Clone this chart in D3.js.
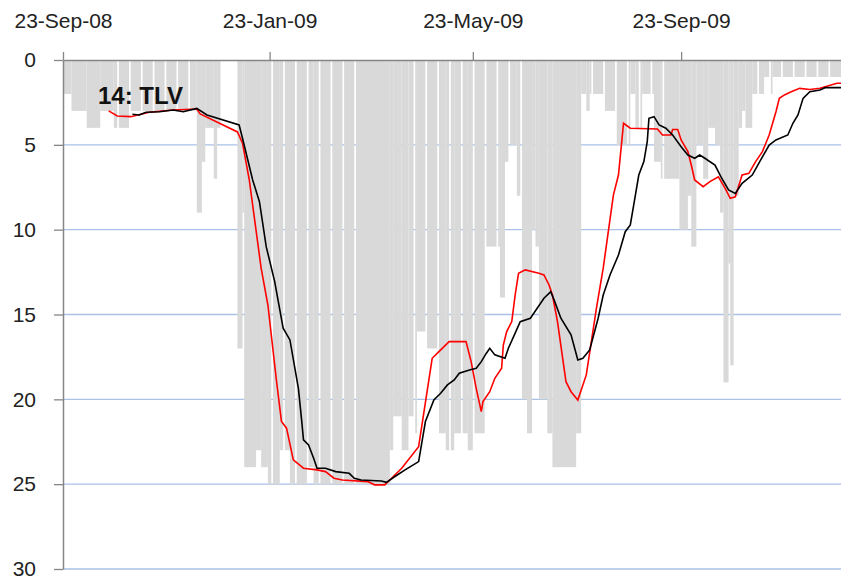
<!DOCTYPE html>
<html>
<head>
<meta charset="utf-8">
<script src="https://cdnjs.cloudflare.com/ajax/libs/d3/7.8.5/d3.min.js"></script>
<style>
  body { margin: 0; background: #fff; }
  svg { display: block; }
  text { font-family: "Liberation Sans", Arial, sans-serif; }
</style>
</head>
<body>
<div id="chart"></div>
<script>
var width = 841,
    height = 584;

var yTicks = [0, 5, 10, 15, 20, 25, 30];
var xTickDates = ["2008-09-23", "2009-01-23", "2009-05-23", "2009-09-23"];
var seriesLabel = "14: TLV";

// daily rank (grey bars), run-length: value holds from this date until the next one
var barStart = ["2008-09-23", "2008-09-28", "2008-10-07", "2008-10-15", "2008-10-23", "2008-11-02",
    "2008-12-11", "2008-12-14", "2008-12-16", "2008-12-21", "2008-12-23", "2008-12-25",
    "2009-01-04", "2009-01-07", "2009-01-08", "2009-01-15", "2009-01-18", "2009-01-22", "2009-01-29",
    "2009-02-04", "2009-02-15", "2009-02-18", "2009-04-04", "2009-04-06", "2009-04-11", "2009-04-15",
    "2009-04-18", "2009-04-20", "2009-04-25", "2009-04-26", "2009-05-02", "2009-05-07", "2009-05-10",
    "2009-05-12", "2009-05-17", "2009-05-20", "2009-05-24", "2009-05-31", "2009-06-08", "2009-06-11",
    "2009-06-14", "2009-06-18", "2009-06-21", "2009-06-24", "2009-06-27", "2009-06-29", "2009-07-01",
    "2009-07-06", "2009-07-09", "2009-07-23", "2009-07-26", "2009-07-29", "2009-07-31", "2009-08-08",
    "2009-08-15", "2009-08-24", "2009-08-27", "2009-08-31", "2009-09-07", "2009-09-11", "2009-09-22",
    "2009-09-27", "2009-09-29", "2009-10-02", "2009-10-06", "2009-10-09", "2009-10-13", "2009-10-16",
    "2009-10-18", "2009-10-21", "2009-10-22", "2009-10-24", "2009-10-27", "2009-10-29", "2009-10-31",
    "2009-11-04", "2009-11-11", "2009-11-14", "2009-11-16"];
var barValue = [2, 3, 4, 3, 4, 3,
    9, 6, 4, 7, 4, 0,
    17, 9, 24, 23, 24, 25, 23,
    25, 24, 25, 23, 21, 23, 21,
    22, 16, 3, 17, 22, 23, 23,
    22, 22, 23, 22, 11, 14, 6,
    5, 8, 20, 22, 10, 11, 20,
    22, 24, 22, 2, 3, 2, 3,
    5, 2, 4, 2, 6, 7, 10,
    8, 11, 5, 7, 4, 5, 9,
    19, 12, 18, 8, 4, 3, 4,
    2, 1, 2, 1];

// periods where the Saturday value is missing
var gapFrom = ["2008-10-25", "2009-01-24", "2009-04-18", "2009-08-01", "2009-11-07"];
var gapTo   = ["2008-12-06", "2009-03-14", "2009-06-20", "2009-09-12", "2009-12-19"];

var redDates = ["2008-10-20", "2008-10-25", "2008-11-02", "2008-11-08", "2008-11-13", "2008-11-27",
    "2008-12-11", "2008-12-13", "2009-01-04", "2009-01-07", "2009-01-11", "2009-01-18", "2009-01-22",
    "2009-01-27", "2009-01-30", "2009-02-02", "2009-02-06", "2009-02-12", "2009-02-20", "2009-02-25",
    "2009-03-02", "2009-03-07", "2009-03-22", "2009-03-26", "2009-04-01", "2009-04-05", "2009-04-11",
    "2009-04-21", "2009-04-29", "2009-05-03", "2009-05-09", "2009-05-19", "2009-05-22", "2009-05-25",
    "2009-05-28", "2009-05-29", "2009-06-02", "2009-06-05", "2009-06-09", "2009-06-10", "2009-06-12",
    "2009-06-15", "2009-06-17", "2009-06-19", "2009-06-23", "2009-07-01", "2009-07-04", "2009-07-07",
    "2009-07-09", "2009-07-12", "2009-07-17", "2009-07-20", "2009-07-24", "2009-07-29", "2009-08-04",
    "2009-08-08", "2009-08-14", "2009-08-17", "2009-08-20", "2009-08-24", "2009-09-09", "2009-09-12",
    "2009-09-17", "2009-09-18", "2009-09-21", "2009-09-23", "2009-09-27", "2009-09-29", "2009-10-01",
    "2009-10-06", "2009-10-10", "2009-10-15", "2009-10-19", "2009-10-22", "2009-10-25", "2009-10-29",
    "2009-11-02", "2009-11-06", "2009-11-10", "2009-11-14", "2009-11-18", "2009-11-20", "2009-11-23",
    "2009-11-27", "2009-12-02", "2009-12-08", "2009-12-14", "2009-12-24", "2009-12-27"];
var redValues = [3.0, 3.3, 3.34, 3.2, 3.08, 2.95,
    2.89, 3.18, 4.24, 4.9, 7.07, 12.27, 14.44,
    18.86, 21.3, 21.7, 23.57, 24.06, 24.16, 24.26,
    24.65, 24.75, 24.85, 25.04, 25.04, 24.65, 24.06,
    22.79, 17.58, 17.19, 16.6, 16.6, 17.78, 19.35,
    20.72, 20.13, 19.55, 18.76, 18.17, 16.8, 16.01,
    15.42, 13.85, 12.57, 12.37, 12.57, 12.67, 13.26,
    13.85, 15.42, 18.96, 19.55, 20.04, 18.56, 14.63,
    12.27, 7.96, 6.78, 3.73, 4.02, 4.07, 4.42,
    4.42, 4.1, 4.1, 4.71, 5.4, 6.19, 7.07,
    7.47, 7.17, 6.88, 7.56, 8.15, 8.06, 6.78,
    6.68, 5.99, 5.4, 4.42, 3.05, 2.26, 2.06,
    1.87, 1.67, 1.74, 1.67, 1.37, 1.37];

var blackDates = ["2008-11-03", "2008-11-07", "2008-11-11", "2008-11-19", "2008-11-27", "2008-12-03",
    "2008-12-11", "2008-12-17", "2009-01-05", "2009-01-07", "2009-01-13", "2009-01-17", "2009-01-21",
    "2009-01-26", "2009-01-31", "2009-02-04", "2009-02-09", "2009-02-11", "2009-02-12", "2009-02-15",
    "2009-02-18", "2009-02-20", "2009-02-25", "2009-03-03", "2009-03-11", "2009-03-14", "2009-03-18",
    "2009-03-30", "2009-04-02", "2009-04-07", "2009-04-13", "2009-04-21", "2009-04-25", "2009-04-30",
    "2009-05-04", "2009-05-08", "2009-05-12", "2009-05-15", "2009-05-21", "2009-05-25", "2009-05-28",
    "2009-05-31", "2009-06-02", "2009-06-05", "2009-06-11", "2009-06-13", "2009-06-17", "2009-06-20",
    "2009-06-26", "2009-06-30", "2009-07-04", "2009-07-08", "2009-07-10", "2009-07-14", "2009-07-20",
    "2009-07-24", "2009-07-27", "2009-07-31", "2009-08-05", "2009-08-08", "2009-08-12", "2009-08-17",
    "2009-08-21", "2009-08-24", "2009-08-27", "2009-08-29", "2009-09-01", "2009-09-03", "2009-09-04",
    "2009-09-07", "2009-09-10", "2009-09-14", "2009-09-18", "2009-09-23", "2009-09-27", "2009-10-01",
    "2009-10-04", "2009-10-07", "2009-10-13", "2009-10-17", "2009-10-21", "2009-10-25", "2009-10-29",
    "2009-11-04", "2009-11-09", "2009-11-14", "2009-11-18", "2009-11-25", "2009-11-28", "2009-12-01",
    "2009-12-04", "2009-12-08", "2009-12-14", "2009-12-17", "2009-12-27"];
var blackValues = [3.2, 3.24, 3.08, 3.05, 2.95, 3.05,
    2.85, 3.24, 3.83, 4.61, 7.07, 8.35, 11.0,
    13.06, 15.81, 16.5, 19.35, 21.31, 22.39, 22.69,
    23.47, 24.06, 24.06, 24.26, 24.36, 24.65, 24.75,
    24.81, 24.89, 24.55, 24.16, 23.67, 21.31, 20.04,
    19.64, 19.15, 18.86, 18.46, 18.27, 18.17, 17.78,
    17.28, 16.99, 17.38, 17.58, 16.99, 16.1, 15.42,
    15.22, 14.63, 14.04, 13.65, 14.14, 15.22, 16.2,
    17.68, 17.58, 17.09, 15.22, 13.85, 12.67, 11.49,
    10.12, 9.72, 7.96, 6.78, 5.99, 4.81, 3.44,
    3.34, 3.83, 4.02, 4.42, 5.11, 5.6, 5.79,
    5.6, 5.79, 6.19, 6.97, 7.66, 7.86, 7.27,
    6.78, 5.89, 5.01, 4.71, 4.42, 3.73, 3.24,
    2.26, 1.87, 1.77, 1.63, 1.63];

var parseDate = d3.utcParse("%Y-%m-%d");
var startDate = parseDate("2008-09-23"),
    endDate = parseDate("2009-12-27");

var svg = d3.select("#chart")
    .append("svg")
    .attr("width", width)
    .attr("height", height);

var x = d3.scaleUtc()
    .domain([startDate, endDate])
    .range([63, 842]);

var y = d3.scaleLinear()
    .domain([0, 30])
    .range([60, 569]);

// gridlines
svg.append("g")
    .selectAll("line")
    .data(yTicks.slice(1))
    .enter().append("line")
    .attr("x1", 63)
    .attr("x2", width)
    .attr("y1", function(d) { return y(d); })
    .attr("y2", function(d) { return y(d); })
    .style("stroke", "#a9c2e6")
    .style("stroke-width", 1.3);

// expand the runs to days, then merge equal neighbouring days into one rect
var runs = barStart.map(function(s, i) { return { date: parseDate(s), value: barValue[i] }; });
var gaps = gapFrom.map(function(s, i) { return [parseDate(s), parseDate(gapTo[i])]; });

function isGap(day) {
    if (day.getUTCDay() !== 6) return false;
    return gaps.some(function(g) { return day >= g[0] && day <= g[1]; });
}

var segments = [];
var ri = 0, cur = null;
d3.utcDay.range(startDate, endDate).forEach(function(day) {
    while (ri + 1 < runs.length && runs[ri + 1].date <= day) ri++;
    var v = isGap(day) ? 0 : runs[ri].value;
    var next = d3.utcDay.offset(day, 1);
    if (cur && cur.value === v) {
        cur.end = next;
    } else {
        cur = { start: day, end: next, value: v };
        segments.push(cur);
    }
});

svg.append("g")
    .selectAll("rect")
    .data(segments.filter(function(s) { return s.value > 0; }))
    .enter().append("rect")
    .attr("x", function(d) { return x(d.start); })
    .attr("y", y(0))
    .attr("width", function(d) { return x(d.end) - x(d.start); })
    .attr("height", function(d) { return y(d.value) - y(0); })
    .style("fill", "#d9d9d9");

// axes
var xAxis = d3.axisTop(x)
    .tickValues(xTickDates.map(parseDate))
    .tickFormat(d3.utcFormat("%d-%b-%y"))
    .tickSizeInner(8)
    .tickSizeOuter(0)
    .tickPadding(24);

var gX = svg.append("g")
    .attr("transform", "translate(0," + y(0) + ")")
    .call(xAxis);

var yAxis = d3.axisLeft(y)
    .tickValues(yTicks)
    .tickSizeInner(9)
    .tickSizeOuter(0)
    .tickPadding(18);

var gY = svg.append("g")
    .attr("transform", "translate(" + 63 + ",0)")
    .call(yAxis);

[gX, gY].forEach(function(g) {
    g.select(".domain").style("stroke", "#868686").style("stroke-width", 1.5);
    g.selectAll(".tick line").style("stroke", "#868686").style("stroke-width", 1.3);
    g.selectAll(".tick text")
        .style("font-family", "'Liberation Sans', Arial, sans-serif")
        .style("font-size", "21px")
        .style("fill", "#222");
});

// moving averages
var line = d3.line()
    .x(function(d) { return x(d[0]); })
    .y(function(d) { return y(d[1]); });

svg.append("path")
    .datum(redDates.map(function(s, i) { return [parseDate(s), redValues[i]]; }))
    .attr("d", line)
    .style("fill", "none")
    .style("stroke", "#ff0000")
    .style("stroke-width", 1.6);

svg.append("path")
    .datum(blackDates.map(function(s, i) { return [parseDate(s), blackValues[i]]; }))
    .attr("d", line)
    .style("fill", "none")
    .style("stroke", "#000")
    .style("stroke-width", 1.6);

svg.append("text")
    .attr("x", 98)
    .attr("y", 104)
    .style("font-size", "24px")
    .style("font-weight", "bold")
    .style("fill", "#111")
    .text(seriesLabel);
</script>
</body>
</html>
